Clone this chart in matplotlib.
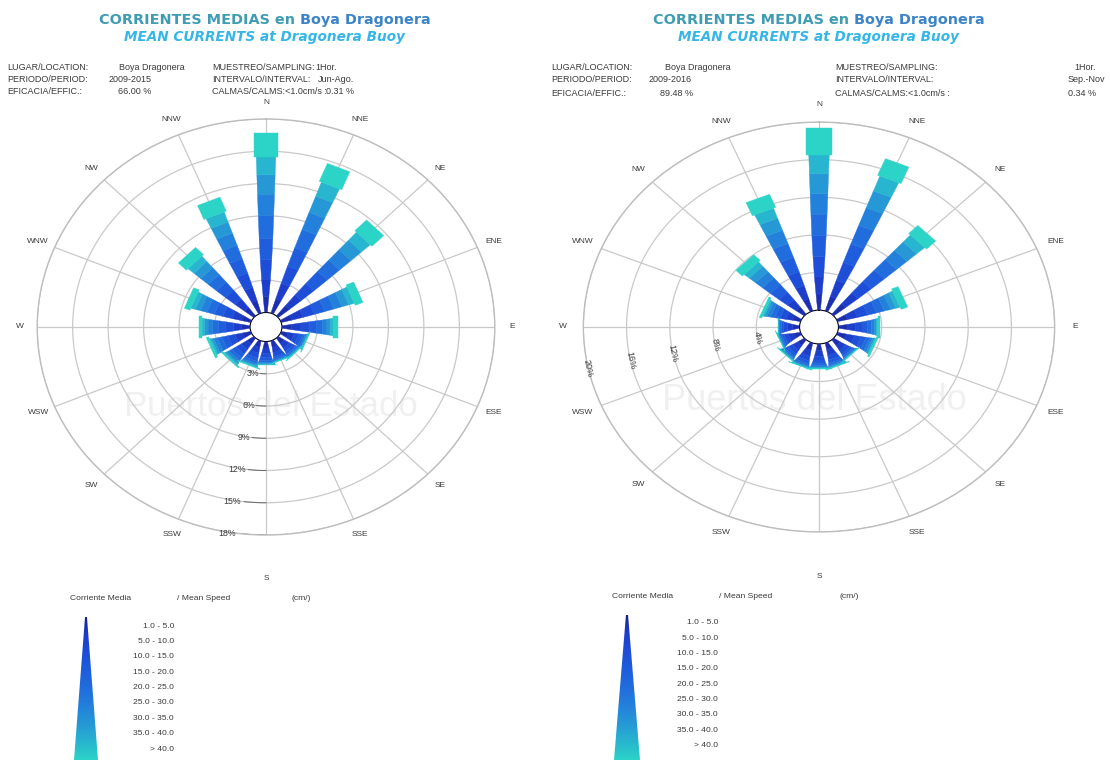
import numpy as np
import matplotlib
matplotlib.use("Agg")
import matplotlib.pyplot as plt
from matplotlib.patches import Polygon
from matplotlib.colors import LinearSegmentedColormap
from matplotlib.offsetbox import TextArea, HPacker, AnnotationBbox

W, H = 1110, 760

# ---------------- data ----------------
directions = ["N", "NNE", "NE", "ENE", "E", "ESE", "SE", "SSE",
              "S", "SSW", "SW", "WSW", "W", "WNW", "NW", "NNW"]
speed_labels = ["1.0 - 5.0", "5.0 - 10.0", "10.0 - 15.0", "15.0 - 20.0",
                "20.0 - 25.0", "25.0 - 30.0", "30.0 - 35.0", "35.0 - 40.0", "> 40.0"]

# Jun-Ago (frequency %, per speed class, directions in order above)
jun_ago_01_05 = [1.5, 1.4, 1.2, 0.9, 0.8, 0.6, 0.6, 0.6, 0.6, 0.6, 0.65, 0.7, 0.7, 0.8, 1.0, 1.2]
jun_ago_05_10 = [1.6, 1.5, 1.3, 1.0, 0.8, 0.5, 0.5, 0.5, 0.5, 0.55, 0.6, 0.65, 0.7, 0.8, 1.0, 1.3]
jun_ago_10_15 = [1.8, 1.7, 1.4, 1.0, 0.7, 0.4, 0.35, 0.35, 0.4, 0.45, 0.5, 0.6, 0.65, 0.8, 1.0, 1.4]
jun_ago_15_20 = [2.0, 1.8, 1.5, 0.9, 0.6, 0.3, 0.25, 0.2, 0.25, 0.3, 0.4, 0.5, 0.6, 0.75, 1.0, 1.4]
jun_ago_20_25 = [2.1, 1.8, 1.4, 0.8, 0.5, 0.2, 0.15, 0.15, 0.18, 0.22, 0.3, 0.4, 0.5, 0.65, 0.9, 1.3]
jun_ago_25_30 = [2.0, 1.7, 1.3, 0.7, 0.4, 0.1, 0.1, 0.08, 0.1, 0.14, 0.2, 0.3, 0.4, 0.55, 0.85, 1.2]
jun_ago_30_35 = [1.8, 1.6, 1.2, 0.6, 0.3, 0.08, 0.06, 0.05, 0.07, 0.1, 0.13, 0.2, 0.3, 0.45, 0.75, 1.1]
jun_ago_35_40 = [1.7, 1.4, 1.0, 0.5, 0.25, 0.06, 0.04, 0.03, 0.04, 0.06, 0.1, 0.15, 0.2, 0.4, 0.65, 1.0]
jun_ago_gt40 = [2.2, 1.8, 1.4, 0.7, 0.35, 0.06, 0.05, 0.04, 0.06, 0.08, 0.12, 0.2, 0.25, 0.5, 0.95, 1.4]

# Sep-Nov
sep_nov_01_05 = [1.7, 1.6, 1.4, 0.95, 0.85, 0.85, 0.72, 0.72, 0.72, 0.78, 0.73, 0.63, 0.63, 0.74, 0.95, 1.35]
sep_nov_05_10 = [1.9, 1.8, 1.5, 0.95, 0.75, 0.75, 0.58, 0.62, 0.62, 0.63, 0.57, 0.52, 0.47, 0.63, 0.95, 1.45]
sep_nov_10_15 = [2.1, 2.0, 1.6, 0.95, 0.65, 0.6, 0.42, 0.47, 0.47, 0.47, 0.42, 0.37, 0.35, 0.53, 1.0, 1.55]
sep_nov_15_20 = [2.2, 2.1, 1.6, 0.85, 0.45, 0.45, 0.26, 0.32, 0.31, 0.31, 0.29, 0.23, 0.23, 0.47, 1.0, 1.6]
sep_nov_20_25 = [2.3, 2.1, 1.5, 0.75, 0.35, 0.35, 0.16, 0.21, 0.21, 0.21, 0.19, 0.15, 0.14, 0.4, 0.95, 1.55]
sep_nov_25_30 = [2.2, 2.0, 1.3, 0.6, 0.25, 0.25, 0.1, 0.14, 0.13, 0.12, 0.11, 0.08, 0.08, 0.32, 0.85, 1.5]
sep_nov_30_35 = [2.1, 1.9, 1.2, 0.5, 0.2, 0.17, 0.06, 0.09, 0.09, 0.08, 0.08, 0.05, 0.04, 0.23, 0.75, 1.35]
sep_nov_35_40 = [2.0, 1.7, 1.0, 0.4, 0.13, 0.12, 0.04, 0.06, 0.06, 0.05, 0.05, 0.03, 0.03, 0.16, 0.6, 1.15]
sep_nov_gt40 = [2.9, 1.9, 1.2, 0.65, 0.17, 0.16, 0.06, 0.07, 0.09, 0.05, 0.06, 0.04, 0.03, 0.22, 0.85, 1.5]

jun_ago_rings = [3, 6, 9, 12, 15, 18]
sep_nov_rings = [4, 8, 12, 16, 20]

jun_ago_info = {"location": "Boya Dragonera", "period": "2009-2015", "effic": "66.00 %",
                "sampling": "1Hor.", "interval": "Jun-Ago.", "calms": "0.31 %"}
sep_nov_info = {"location": "Boya Dragonera", "period": "2009-2016", "effic": "89.48 %",
                "sampling": "1Hor.", "interval": "Sep.-Nov", "calms": "0.34 %"}

# ---------------- style ----------------
class_colors = ["#1c2eae", "#1d3ecb", "#1e4dd7", "#1f5ddc", "#216ddd",
                "#2381db", "#2598d5", "#28b5cf", "#2cd3c7"]
half_w_start = 1.2
half_w_px = [2.6, 4.0, 5.2, 6.2, 7.0, 7.7, 8.3, 8.9, 11.0]
TXT = "#3a3a3a"
SANS = ["Liberation Sans", "DejaVu Sans"]

fig = plt.figure(figsize=(W / 100, H / 100), dpi=100)
fig.patch.set_facecolor("white")


def px_rect(x0, y0, x1, y1):
    return [x0 / W, 1 - y1 / H, (x1 - x0) / W, (y1 - y0) / H]


def draw_rose(cx, cy, kv, stretch, r0, rmax, rings, classes, ring_label_mode, lbl_r, s_lbl_r, wm_xy, wm_size):
    rv = (rmax + r0) * kv
    rh = rv * stretch
    ax = fig.add_axes(px_rect(cx - rh, cy - rv, cx + rh, cy + rv), projection="polar")
    ax.set_theta_zero_location("N")
    ax.set_theta_direction(-1)
    ax.set_rorigin(-r0)
    ax.set_ylim(0, rmax)
    ax.set_aspect("auto")
    ax.set_facecolor("white")
    theta = np.deg2rad(np.arange(16) * 22.5)
    ax.set_xticks(theta)
    ax.set_xticklabels([])
    ax.set_yticks(rings)
    ax.set_yticklabels([])
    ax.tick_params(length=0)
    ax.grid(True, color="#c9c9c9", lw=0.9)
    ax.spines["polar"].set_color("#bdbdbd")
    ax.spines["polar"].set_linewidth(1.0)

    ax.text(wm_xy[0], wm_xy[1], "Puertos del Estado", transform=ax.transAxes, ha="center",
            va="center", fontsize=wm_size, color="#f0f0f0", family=SANS, zorder=0.5)

    cum = np.zeros(16)
    nclass = len(classes)
    for k, vals in enumerate(classes):
        vals = np.asarray(vals, dtype=float)
        h_out = half_w_px[k] / kv
        if k == nclass - 1:
            h_in = h_out
        else:
            h_in = (half_w_px[k - 1] if k > 0 else half_w_start) / kv
        for i in range(16):
            rho1 = cum[i] + r0
            rho2 = cum[i] + vals[i] + r0
            pts = []
            for rho, hh, s in ((rho1, h_in, -1), (rho2, h_out, -1), (rho2, h_out, 1), (rho1, h_in, 1)):
                pts.append((theta[i] + np.arctan2(s * hh, rho), np.hypot(rho, hh) - r0))
            ax.add_patch(Polygon(pts, closed=True, facecolor=class_colors[k],
                                 edgecolor=class_colors[k], lw=0.3, zorder=3))
        cum += vals

    for i, d in enumerate(directions):
        rr = s_lbl_r if d == "S" else lbl_r
        ax.text(theta[i], rr, d, ha="center", va="center", fontsize=6,
                color=TXT, family=SANS)

    if ring_label_mode == "south":
        for r in rings:
            arc = np.deg2rad(np.linspace(180, 186.5, 10))
            ax.plot(arc, np.full_like(arc, r), color="#6a6a6a", lw=0.7, zorder=2)
            ax.text(np.deg2rad(187.5), r, f"{r}%", ha="right", va="center",
                    fontsize=6.3, color=TXT, family=SANS)
    else:
        for r in rings:
            ax.text(np.deg2rad(258.5), r, f"{r}%", ha="center", va="center",
                    rotation=-78, fontsize=6.5, color=TXT, family=SANS)
    return ax


draw_rose(266, 327, 10.75, 1.10, 1.35, 18, jun_ago_rings,
          [jun_ago_01_05, jun_ago_05_10, jun_ago_10_15, jun_ago_15_20, jun_ago_20_25,
           jun_ago_25_30, jun_ago_30_35, jun_ago_35_40, jun_ago_gt40],
          "south", 19.5, 22.0, (0.51, 0.31), 25)
draw_rose(819, 327, 9.4, 1.15, 1.8, 20, sep_nov_rings,
          [sep_nov_01_05, sep_nov_05_10, sep_nov_10_15, sep_nov_15_20, sep_nov_20_25,
           sep_nov_25_30, sep_nov_30_35, sep_nov_35_40, sep_nov_gt40],
          "west", 21.9, 24.7, (0.49, 0.32), 26)


def fx(x):
    return x / W


def fy(y):
    return 1 - y / H


def header(cx, x0, xval, xc2, xr, ys, info):
    t1 = TextArea("CORRIENTES MEDIAS en", textprops=dict(color="#3f9cb2", fontsize=10.4,
                                                         fontweight="bold", family="DejaVu Sans"))
    t2 = TextArea("Boya Dragonera", textprops=dict(color="#3c84c6", fontsize=10.4,
                                                   fontweight="bold", family="DejaVu Sans"))
    box = HPacker(children=[t1, t2], sep=4, align="baseline", pad=0)
    ab = AnnotationBbox(box, (fx(cx), fy(20)), xycoords="figure fraction",
                        frameon=False, box_alignment=(0.5, 0.5), pad=0)
    fig.add_artist(ab)
    fig.text(fx(cx), fy(37.5), "MEAN CURRENTS at Dragonera Buoy", ha="center", va="center",
             fontsize=9.8, fontweight="bold", fontstyle="italic", color="#36b6e6",
             family="DejaVu Sans")
    kw = dict(fontsize=6.5, color=TXT, family=SANS, va="center")
    fig.text(fx(x0), fy(ys[0]), "LUGAR/LOCATION:", **kw)
    fig.text(fx(x0), fy(ys[1]), "PERIODO/PERIOD:", **kw)
    fig.text(fx(x0), fy(ys[2]), "EFICACIA/EFFIC.:", **kw)
    fig.text(fx(xval[0]), fy(ys[0]), info["location"], **kw)
    fig.text(fx(xval[1]), fy(ys[1]), info["period"], **kw)
    fig.text(fx(xval[2]), fy(ys[2]), info["effic"], **kw)
    fig.text(fx(xc2), fy(ys[0]), "MUESTREO/SAMPLING:", **kw)
    fig.text(fx(xc2), fy(ys[1]), "INTERVALO/INTERVAL:", **kw)
    fig.text(fx(xc2), fy(ys[2]), "CALMAS/CALMS:<1.0cm/s :", **kw)
    fig.text(fx(xr[0]), fy(ys[0]), info["sampling"], ha="right", **kw)
    fig.text(fx(xr[1]), fy(ys[1]), info["interval"], ha="right", **kw)
    fig.text(fx(xr[2]), fy(ys[2]), info["calms"], ha="right", **kw)


header(265, 7, (119, 109, 118), 212, (337, 354, 354), (68, 79, 91), jun_ago_info)
header(819, 551, (665, 649, 660), 835, (1096, 1105, 1096), (67, 80, 93), sep_nov_info)

cmap = LinearSegmentedColormap.from_list("spd", ["#1a1f92"] + class_colors[1:])


def legend(apex_x, apex_y, half_base, x_head, x_head2, x_head3, y_head, x_lbl, y_lbl0, dy):
    lax = fig.add_axes(px_rect(apex_x - half_base, apex_y, apex_x + half_base, 760))
    lax.set_xlim(-1, 1)
    lax.set_ylim(0, 1)
    lax.axis("off")
    grad = np.linspace(1, 0, 256).reshape(-1, 1)
    im = lax.imshow(grad, extent=(-1, 1, 0, 1), origin="lower", cmap=cmap, aspect="auto")
    tri = Polygon([(-0.08, 1), (0.08, 1), (1, 0), (-1, 0)], closed=True,
                  transform=lax.transData, facecolor="none", edgecolor="none")
    lax.add_patch(tri)
    im.set_clip_path(tri)
    kw = dict(fontsize=6.1, color=TXT, family=SANS, va="center")
    fig.text(fx(x_head), fy(y_head), "Corriente Media", **kw)
    fig.text(fx(x_head2), fy(y_head), "/ Mean Speed", **kw)
    fig.text(fx(x_head3), fy(y_head), "(cm/)", **kw)
    for i, lab in enumerate(speed_labels):
        fig.text(fx(x_lbl), fy(y_lbl0 + i * dy), lab, ha="right", **kw)


legend(86, 617, 12, 70, 177, 292, 598, 174, 626, 15.4)
legend(627, 615, 13, 612, 719, 840, 596, 718, 623, 15.3)

fig.savefig("out.png", dpi=100, facecolor="white")
